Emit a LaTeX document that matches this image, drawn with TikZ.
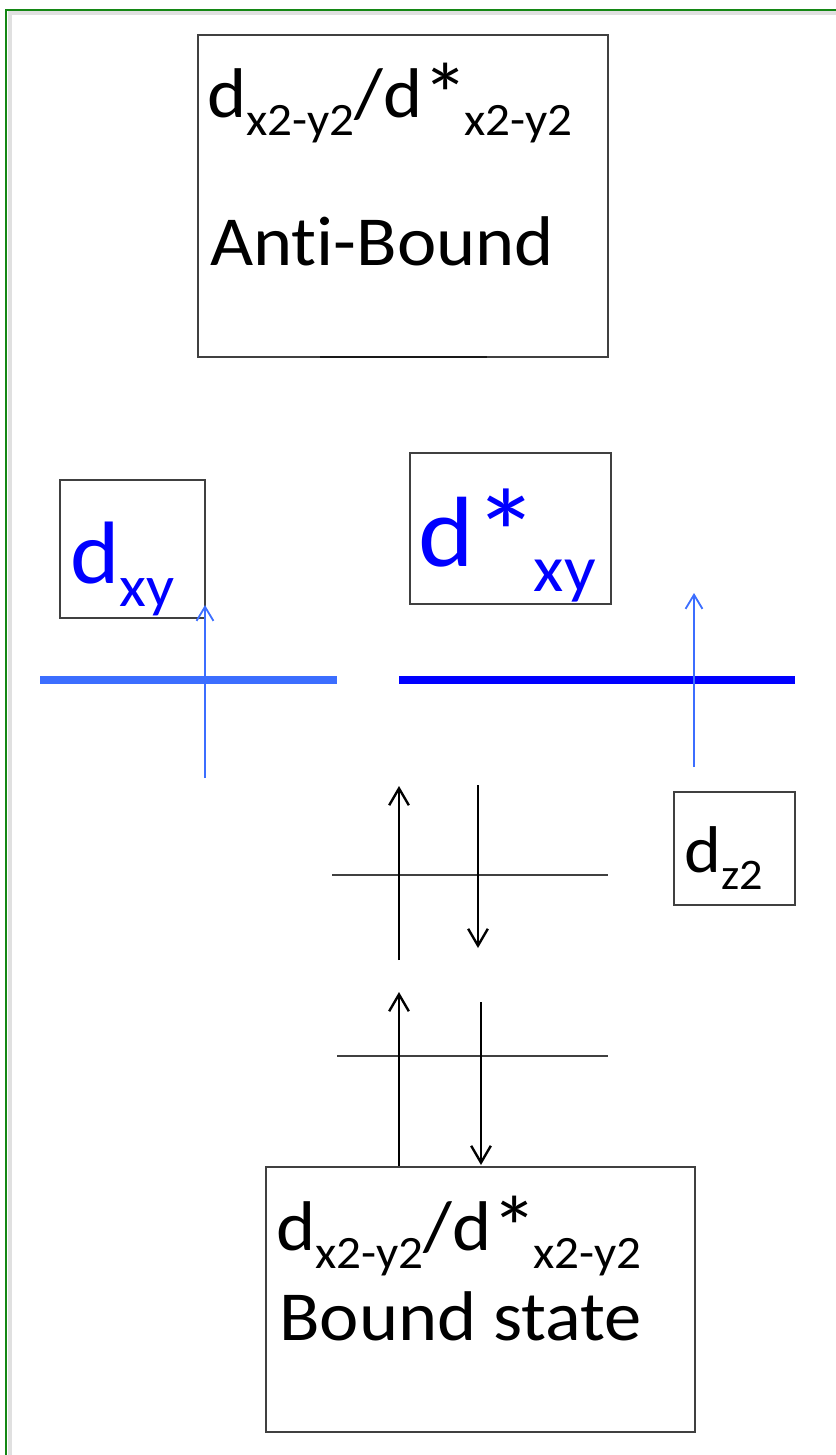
\documentclass[tikz,border=0pt]{standalone}
\usepackage{fontspec}
\setmainfont{Carlito}[Ligatures={NoCommon}, FakeStretch=1.06]
\usepackage{graphicx}
\usetikzlibrary{arrows.meta}
\definecolor{framegreen}{RGB}{20,135,20}
\definecolor{spinblue}{RGB}{60,110,255}
\definecolor{deepblue}{RGB}{0,0,255}
\newcommand{\lowidx}[1]{\raisebox{-0.26em}{\scalebox{0.66}{#1}}}
\newcommand{\starmark}{\makebox[0.6em][l]{\raisebox{-0.12em}{\scalebox{1.25}{*}}}}

\begin{document}
\begin{tikzpicture}[x=0.025cm, y=-0.025cm,
    box/.style={draw=black!75, line width=0.9pt},
    lbl/.style={anchor=base west, inner sep=0pt, font=\fontsize{50}{60}\selectfont},
    level/.style={draw=black!75, line width=0.9pt},
    spin/.style={line width=1.7pt, -{Straight Barb[length=12pt, width=14pt]}},
    bluespin/.style={spinblue, line width=1.3pt, -{Straight Barb[length=10pt, width=12pt]}}]

    \useasboundingbox (0,0) rectangle (836,1455);

    % Frame
    \draw[black!12, line width=2.5pt] (10,1460) -- (10,13) -- (840,13);
    \draw[framegreen, line width=1.6pt] (6,1460) -- (6,10) -- (840,10);

    % Anti-bound box
    \draw[box] (198,35) rectangle (608,357);
    \draw[black!90, line width=1.3pt] (320,357) -- (487,357);
    \node[lbl] (antiname) at (207,117) {d\lowidx{x2-y2}/d\starmark\lowidx{x2-y2}};
    \node[lbl] (antitext) at (210,265) {Anti-Bound};

    % dxy
    \draw[box] (60,480) rectangle (205,618);
    \node[lbl, deepblue, font=\fontsize{63}{70}\selectfont] (dxy) at (70,583) {d\lowidx{xy}};
    \draw[spinblue, line width=5pt] (40,680) -- (337,680);
    \draw[bluespin] (205,778) -- (205,605);

    % d*xy
    \draw[box] (410,453) rectangle (611,604);
    \node[lbl, deepblue, font=\fontsize{71}{80}\selectfont] (dsxy) at (418,566) {d\starmark\lowidx{xy}};
    \draw[deepblue, line width=5pt] (399,680) -- (795,680);
    \draw[bluespin] (694,767) -- (694,593);

    % dz2
    \draw[box] (674,792) rectangle (795,905);
    \node[lbl, font=\fontsize{47}{55}\selectfont] (dz) at (684,872) {d\lowidx{z2}};

    % Paired levels
    \draw[level] (332,875) -- (608,875);
    \draw[spin] (399,960) -- (399,786);
    \draw[spin] (478,785) -- (478,948);

    \draw[level] (337,1056) -- (608,1056);
    \draw[spin] (399,1166) -- (399,992);
    \draw[spin] (481,1002) -- (481,1165);

    % Bound box
    \draw[box] (266,1167) rectangle (695,1432);
    \node[lbl] (boundname) at (276,1250) {d\lowidx{x2-y2}/d\starmark\lowidx{x2-y2}};
    \node[lbl] (boundtext) at (279,1340) {Bound state};
\end{tikzpicture}
\end{document}
